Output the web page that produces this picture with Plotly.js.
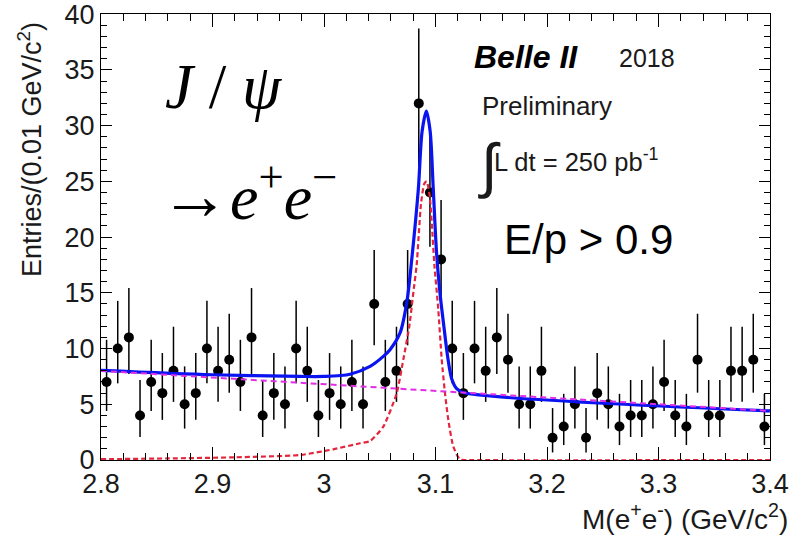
<!DOCTYPE html>
<html>
<head>
<meta charset="utf-8">
<script src="https://cdn.plot.ly/plotly-3.0.1.min.js"></script>
<style>
  html, body { margin: 0; padding: 0; background: #ffffff; }
  #chart { width: 798px; height: 537px; }
</style>
</head>
<body>
<div id="chart"></div>
<script>
// Invariant-mass histogram: bin centres (GeV/c^2), 0.01 GeV/c^2 wide
const binCenters = [
  2.805, 2.815, 2.825, 2.835, 2.845, 2.855, 2.865, 2.875, 2.885, 2.895,
  2.905, 2.915, 2.925, 2.935, 2.945, 2.955, 2.965, 2.975, 2.985, 2.995,
  3.005, 3.015, 3.025, 3.035, 3.045, 3.055, 3.065, 3.075, 3.085, 3.095,
  3.105, 3.115, 3.125, 3.135, 3.145, 3.155, 3.165, 3.175, 3.185, 3.195,
  3.205, 3.215, 3.225, 3.235, 3.245, 3.255, 3.265, 3.275, 3.285, 3.295,
  3.305, 3.315, 3.325, 3.335, 3.345, 3.355, 3.365, 3.375, 3.385, 3.395
];
const entries = [
  7, 10, 11, 4, 7, 6, 8, 5, 6, 10,
  8, 9, 7, 11, 4, 6, 5, 10, 8, 4,
  6, 5, 7, 5, 14, 7, 8, 14, 32, 24,
  18, 10, 6, 10, 8, 11, 9, 5, 5, 8,
  2, 3, 5, 2, 6, 5, 3, 4, 4, 5,
  7, 4, 3, 9, 4, 4, 8, 8, 9, 3
];

// Y-axis tick positions and labels
const yTickVals = [0, 5, 10, 15, 20, 25, 30, 35, 40];
const yTickText = ['0', '5', '10', '15', '20', '25', '30', '35', '40'];

// Total fit (signal + background)
const totalFitX = [2.80, 2.90, 2.9785, 3.00, 3.0233, 3.0413, 3.0532, 3.0592, 3.0682, 3.0742,
                   3.0787, 3.0846, 3.0880, 3.0918, 3.0952, 3.0980, 3.1010, 3.1040, 3.1075,
                   3.1110, 3.1145, 3.1190, 3.1250, 3.40];
const totalFitY = [8.05, 7.65, 7.5, 7.5, 7.7, 8.4, 9.3, 9.9, 11.4, 14.1,
                   18.0, 24.3, 29.5, 31.3, 29.5, 24.3, 18.5, 15.0, 12.0,
                   9.2, 7.3, 6.4, 6.05, 4.4];

// Signal component
const signalX = [2.80, 2.86, 2.919, 2.9785, 3.0083, 3.0323, 3.0413, 3.0532, 3.0652, 3.0711,
                 3.0765, 3.0801, 3.0831, 3.0870, 3.0900, 3.0921, 3.0950, 3.0990, 3.1025,
                 3.1056, 3.1085, 3.1115, 3.1160, 3.1220, 3.1300, 3.40];
const signalY = [0.07, 0.14, 0.24, 0.45, 0.96, 1.5, 1.7, 3.0, 6.0, 9.0,
                 12.0, 15.0, 17.5, 23.0, 24.8, 25.0, 23.5, 17.5, 13.5,
                 9.0, 6.0, 3.6, 1.2, 0.05, 0, 0];

// Linear background component
const backgroundX = [2.80, 3.40];
const backgroundY = [8.0, 4.4];

// Asymmetric Poisson (Garwood) intervals for the bin contents
function poissonUp(n) { return Math.sqrt(n + 0.75) + 1; }
function poissonDown(n) { return n > 0 ? Math.sqrt(n - 0.25) : 0; }
const errUp = entries.map(poissonUp);
const errDown = entries.map(poissonDown);

const FONT = 'Liberation Sans, Arial, Helvetica, sans-serif';
const SERIF = 'Liberation Serif, Times New Roman, serif';
const TXT = '#1a1a1a';

const traces = [
  {
    type: 'scatter', mode: 'markers', name: 'Data',
    x: binCenters, y: entries,
    marker: { color: '#000000', size: 10, symbol: 'circle' },
    error_y: { type: 'data', symmetric: false, array: errUp, arrayminus: errDown,
               width: 0, thickness: 1.5, color: '#000000' },
    cliponaxis: false, hoverinfo: 'x+y'
  },
  {
    type: 'scatter', mode: 'lines', name: 'Total fit',
    x: totalFitX, y: totalFitY,
    line: { color: '#0a14f0', width: 3.2, shape: 'spline', smoothing: 0.8 }
  },
  {
    type: 'scatter', mode: 'lines', name: 'Signal',
    x: signalX, y: signalY,
    line: { color: '#e3263c', width: 2.2, dash: '5px,3px', shape: 'spline', smoothing: 0.6 }
  },
  {
    type: 'scatter', mode: 'lines', name: 'Background',
    x: backgroundX, y: backgroundY,
    line: { color: '#e22ee6', width: 2, dash: '6px,4px' }
  }
];

const axisCommon = {
  showline: true, linecolor: '#000000', linewidth: 1,
  mirror: 'ticks', ticks: 'inside', tickcolor: '#000000', tickwidth: 1,
  showgrid: false, zeroline: false, ticklabeloverflow: 'allow',
  tickfont: { family: FONT, size: 27, color: TXT }
};

const layout = {
  width: 798, height: 537,
  margin: { l: 101, r: 28, t: 14, b: 77 },
  paper_bgcolor: '#ffffff', plot_bgcolor: '#ffffff',
  showlegend: false,
  xaxis: Object.assign({}, axisCommon, {
    range: [2.8, 3.4], tick0: 2.8, dtick: 0.1, ticklen: 13,
    minor: { dtick: 0.02, ticks: 'inside', ticklen: 7, tickcolor: '#000000', tickwidth: 1 }
  }),
  yaxis: Object.assign({}, axisCommon, {
    range: [0, 40.02], tickmode: 'array', tickvals: yTickVals, ticktext: yTickText, ticklen: 11,
    minor: { tickmode: 'linear', tick0: 0, dtick: 1, ticks: 'inside', ticklen: 6,
             tickcolor: '#000000', tickwidth: 1 }
  }),
  annotations: [
    { text: 'Entries/(0.01 GeV/c<sup>2</sup>)', xref: 'paper', yref: 'paper',
      x: -0.106, y: 0.695, textangle: -90, showarrow: false,
      xanchor: 'center', yanchor: 'middle', font: { family: FONT, size: 27, color: TXT } },
    { text: 'M(e<sup>+</sup>e<sup>-</sup>) (GeV/c<sup>2</sup>)', xref: 'paper', yref: 'paper',
      x: 1.03, y: -0.128, showarrow: false,
      xanchor: 'right', yanchor: 'middle', font: { family: FONT, size: 28, color: TXT } },
    { text: '<i>J</i> / <i>ψ</i>', xref: 'x', yref: 'y', x: 2.856, y: 33.5,
      showarrow: false, xanchor: 'left', yanchor: 'middle',
      font: { family: SERIF, size: 63, color: '#000000' } },
    { text: '<span style="font-size:70px">→</span><i>e</i><sup>+</sup><i>e</i><sup>−</sup>',
      xref: 'x', yref: 'y', x: 2.851, y: 24.0,
      showarrow: false, xanchor: 'left', yanchor: 'middle',
      font: { family: SERIF, size: 64, color: '#000000' } },
    { text: '<b><i>Belle II</i></b>', xref: 'x', yref: 'y', x: 3.1325, y: 36.2,
      showarrow: false, xanchor: 'left', yanchor: 'middle',
      font: { family: FONT, size: 32, color: '#000000' } },
    { text: '2018', xref: 'x', yref: 'y', x: 3.2625, y: 36.1,
      showarrow: false, xanchor: 'left', yanchor: 'middle',
      font: { family: FONT, size: 25, color: TXT } },
    { text: 'Preliminary', xref: 'x', yref: 'y', x: 3.1395, y: 31.8,
      showarrow: false, xanchor: 'left', yanchor: 'middle',
      font: { family: FONT, size: 26, color: TXT } },
    { text: '∫', xref: 'x', yref: 'y', x: 3.1485, y: 26.4,
      showarrow: false, xanchor: 'center', yanchor: 'middle',
      font: { family: FONT, size: 60, color: TXT } },
    { text: 'L dt = 250 pb<sup>-1</sup>', xref: 'x', yref: 'y', x: 3.1505, y: 26.9,
      showarrow: false, xanchor: 'left', yanchor: 'middle',
      font: { family: FONT, size: 25.5, color: TXT } },
    { text: 'E/p > 0.9', xref: 'x', yref: 'y', x: 3.1595, y: 19.8,
      showarrow: false, xanchor: 'left', yanchor: 'middle',
      font: { family: FONT, size: 42, color: '#000000' } }
  ]
};

Plotly.newPlot('chart', traces, layout, { staticPlot: true, displayModeBar: false });
</script>
</body>
</html>
